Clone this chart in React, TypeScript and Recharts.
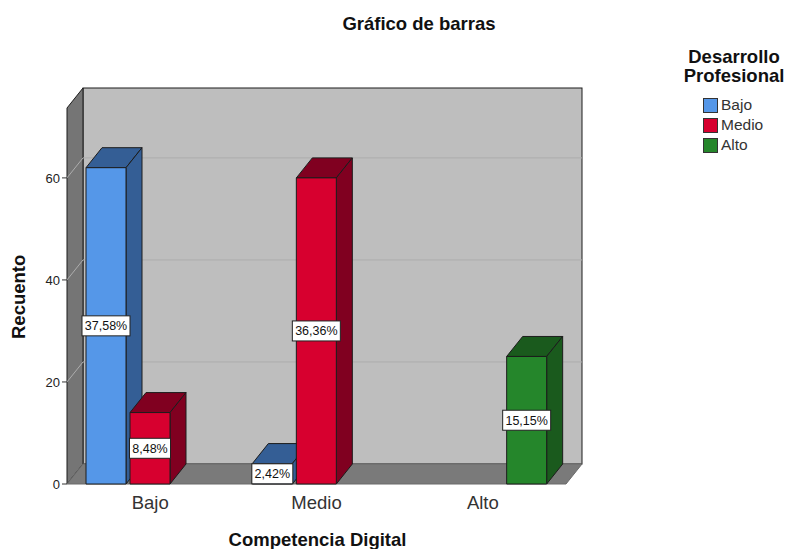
/**
 * Grouped 3D-look bar chart (SPSS style) of Competencia Digital by Desarrollo Profesional.
 */
import { BarChart, Bar, XAxis, YAxis, ReferenceArea, LabelList, Legend } from "recharts"

const categories = ["Bajo", "Medio", "Alto"]
const bajoCounts = [62, 4, null]
const medioCounts = [14, 60, null]
const altoCounts = [null, null, 25]
const bajoLabels = ["37,58%", "2,42%", ""]
const medioLabels = ["8,48%", "36,36%", ""]
const altoLabels = ["", "", "15,15%"]
const yTicks = [0, 20, 40, 60]
const Y_MAX = 73.7

const FONT = "'Liberation Sans', Arial, sans-serif"
const DX = 16
const DY = -20
const LINE = "#1c1c1c"

const SERIES = [
  { name: "Bajo", key: "bajo", front: "#5597E8", dark: "#345E95", counts: bajoCounts, labels: bajoLabels },
  { name: "Medio", key: "medio", front: "#D7002F", dark: "#800020", counts: medioCounts, labels: medioLabels },
  { name: "Alto", key: "alto", front: "#25862B", dark: "#1A5A1D", counts: altoCounts, labels: altoLabels },
]

const data = categories.map((name, i) => {
  const row: Record<string, string | number | null> = { name }
  SERIES.forEach((s) => {
    row[s.key] = s.counts[i]
    row[`${s.key}Label`] = s.labels[i]
  })
  return row
})

// back wall, left wall and floor of the box
function Walls({ x, y, width, height }: any) {
  const bottom = y + height
  const gridY = yTicks.slice(1).map((t) => bottom - (t / Y_MAX) * height)
  return (
    <g>
      <rect x={x + DX} y={y + DY} width={width} height={height} fill="#BEBEBE" stroke={LINE} strokeWidth={1} />
      <polygon
        points={`${x},${y} ${x + DX},${y + DY} ${x + DX},${bottom + DY} ${x},${bottom}`}
        fill="#757575"
        stroke={LINE}
      />
      <polygon
        points={`${x},${bottom} ${x + DX},${bottom + DY} ${x + width + DX},${bottom + DY} ${x + width},${bottom}`}
        fill="#7A7A7A"
        stroke="#6a6a6a"
      />
      {gridY.map((gy) => (
        <g key={gy} stroke="#ADADAD" strokeWidth={1}>
          <line x1={x} y1={gy} x2={x + DX} y2={gy + DY} />
          <line x1={x + DX} y1={gy + DY} x2={x + width + DX} y2={gy + DY} />
        </g>
      ))}
    </g>
  )
}

function Box3D({ x, y, width, height, front, dark }: any) {
  if (!height) return null
  const r = x + width
  const b = y + height
  return (
    <g stroke={LINE} strokeWidth={1} strokeLinejoin="round">
      <polygon points={`${x},${y} ${x + DX},${y + DY} ${r + DX},${y + DY} ${r},${y}`} fill={dark} />
      <polygon points={`${r},${y} ${r + DX},${y + DY} ${r + DX},${b + DY} ${r},${b}`} fill={dark} />
      <rect x={x} y={y} width={width} height={height} fill={front} />
    </g>
  )
}

function PercentTag({ x, y, width, height, value }: any) {
  if (!value) return null
  const cx = x + width / 2
  const cy = y + height / 2
  const w = value.length > 5 ? 48 : 41
  return (
    <g>
      <rect x={cx - w / 2} y={cy - 10} width={w} height={20} fill="#fff" stroke="#222" strokeWidth={1} />
      <text x={cx} y={cy + 4.5} textAnchor="middle" fontSize={12.5} fontFamily={FONT} fill="#111">
        {value}
      </text>
    </g>
  )
}

// zero-height wrapper so the legend does not take room from the plot
function LegendBox() {
  return (
    <div style={{ position: "absolute", left: 0, top: 0, fontFamily: FONT, color: "#111", width: 110 }}>
      <div style={{ fontWeight: 700, fontSize: 18.5, lineHeight: "19px", textAlign: "center" }}>
        Desarrollo
        <br />
        Profesional
      </div>
      <div style={{ marginTop: 10, marginLeft: 24 }}>
        {SERIES.map((s) => (
          <div key={s.key} style={{ display: "flex", alignItems: "center", height: 20, fontSize: 15.5, color: "#333" }}>
            <span
              style={{
                display: "inline-block", boxSizing: "border-box", width: 15, height: 15,
                background: s.front, border: "1px solid #333", marginRight: 3,
              }}
            />
            {s.name}
          </div>
        ))}
      </div>
    </div>
  )
}

export default function App() {
  return (
    <div style={{ position: "absolute", left: 0, top: 0, width: 786, height: 549, background: "#fff" }}>
      <BarChart
        width={786}
        height={549}
        data={data}
        margin={{ top: 108, right: 220, left: 0, bottom: 0 }}
        barSize={40}
        barGap={4}
      >
        <text x={419} y={30} textAnchor="middle" fontSize={18.5} fontWeight={700} fontFamily={FONT} fill="#111">
          Gráfico de barras
        </text>
        <ReferenceArea y1={0} y2={Y_MAX} ifOverflow="visible" shape={<Walls />} />
        <XAxis
          dataKey="name"
          height={65}
          axisLine={false}
          tickLine={false}
          tickMargin={6}
          tick={{ fill: "#333", fontSize: 18.5, fontFamily: FONT }}
          label={{
            value: "Competencia Digital", position: "insideBottom", offset: 0, dy: -3, dx: 1,
            fill: "#111", fontSize: 18.5, fontWeight: 700, fontFamily: FONT,
          }}
        />
        <YAxis
          width={67}
          domain={[0, Y_MAX]}
          ticks={yTicks}
          axisLine={false}
          tickLine={{ stroke: "#333" }}
          tickSize={5}
          tick={{ fill: "#222", fontSize: 13, fontFamily: FONT }}
          label={{
            value: "Recuento", angle: -90, position: "insideLeft", dx: 13, dy: 43,
            fill: "#111", fontSize: 18.5, fontWeight: 700, fontFamily: FONT,
          }}
        />
        <Legend
          verticalAlign="top"
          content={<LegendBox />}
          wrapperStyle={{ position: "absolute", left: 679, top: 47, width: 110, height: 0, margin: 0 }}
        />
        {SERIES.map((s) => (
          <Bar
            key={s.key}
            dataKey={s.key}
            name={s.name}
            isAnimationActive={false}
            shape={<Box3D front={s.front} dark={s.dark} />}
          >
            <LabelList dataKey={`${s.key}Label`} content={<PercentTag />} />
          </Bar>
        ))}
      </BarChart>
    </div>
  )
}
